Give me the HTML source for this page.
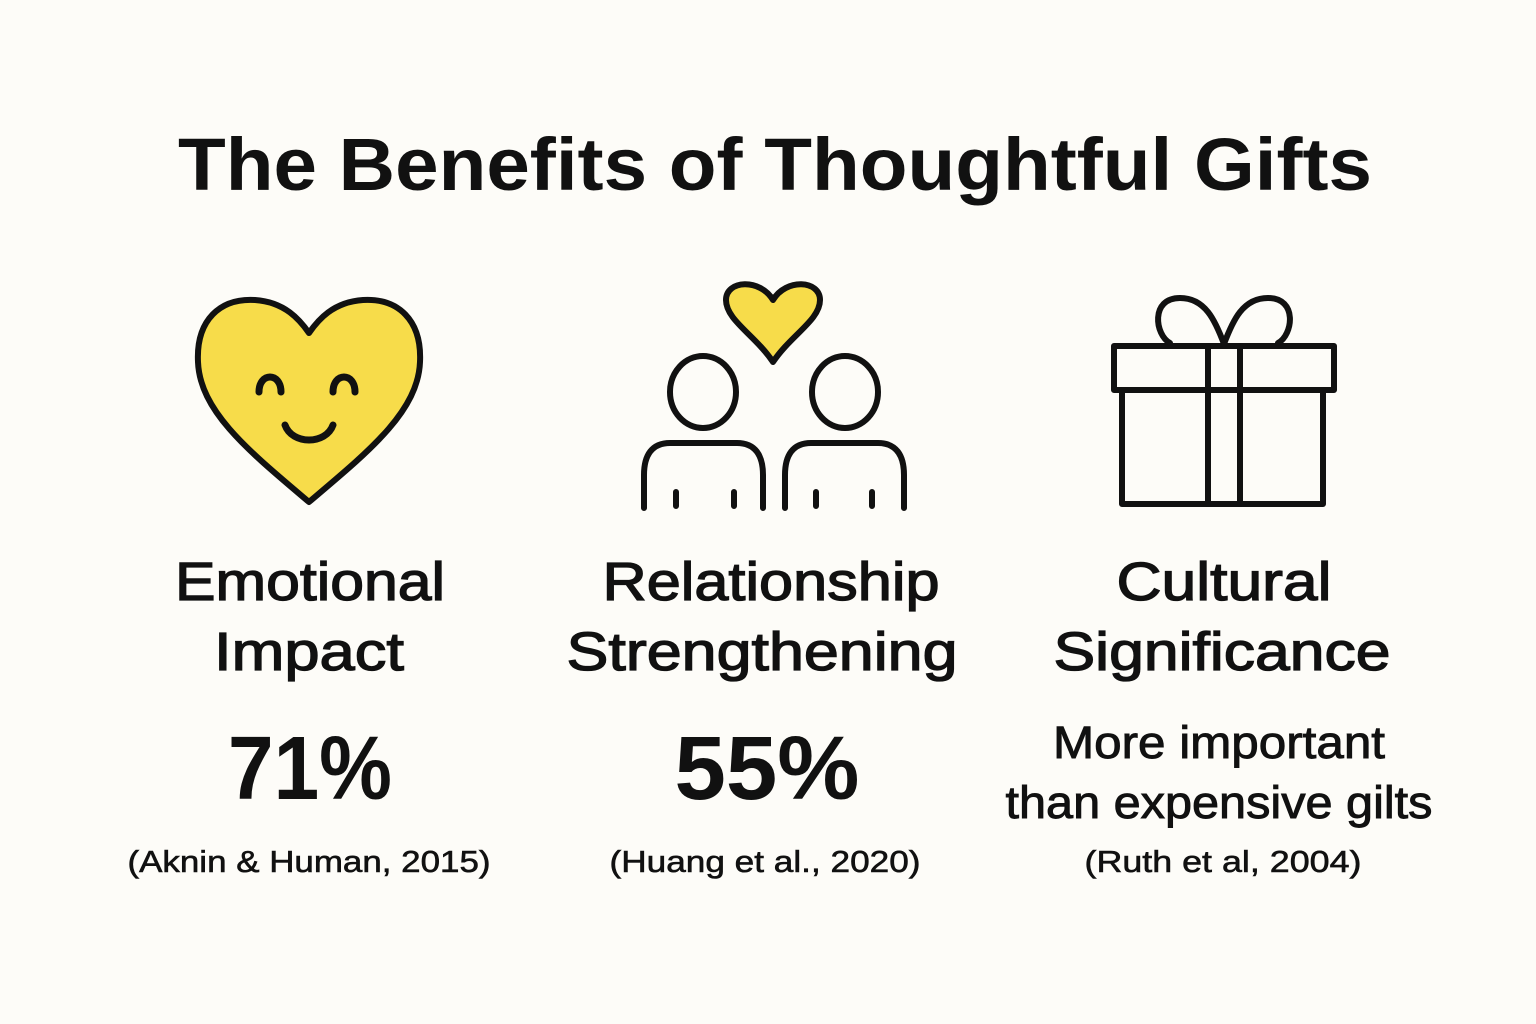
<!DOCTYPE html>
<html><head><meta charset="utf-8"><style>
html,body{margin:0;padding:0;background:#fdfcf8;}
svg{display:block}
text{font-family:"Liberation Sans",sans-serif;fill:#111;text-anchor:middle}
.t{font-weight:bold;font-size:74px}
.l{font-size:54px;stroke:#111;stroke-width:1.3px}
.p{font-weight:bold;font-size:90px}
.c{font-size:31px;stroke:#111;stroke-width:0.6px}
.m{font-size:45px;stroke:#111;stroke-width:0.9px}
</style></head><body>
<svg width="1536" height="1024" viewBox="0 0 1536 1024">
<rect width="1536" height="1024" fill="#fdfcf8"/>
<text class="t" x="775" y="190" textLength="1194" lengthAdjust="spacingAndGlyphs">The Benefits of Thoughtful Gifts</text>
<g fill="none" stroke="#111" stroke-width="6" stroke-linecap="round" stroke-linejoin="round">
<path d="M309,502 C250,452 200,412 198,362 C196,320 220,298 255,300 C285,302 300,320 309,333 C318,320 333,302 363,300 C398,298 422,320 420,362 C418,412 368,452 309,502Z" fill="#f7dc4a"/>
<path d="M259,392 C259,372 281,372 281,392" stroke-width="7"/>
<path d="M333,392 C333,372 355,372 355,392" stroke-width="7"/>
<path d="M285,425 C292,445 326,445 333,425" stroke-width="7"/>
<path d="M773,362 C755,335 726,320 726,300 C726,280 760,278 773,300 C786,278 820,280 820,300 C820,320 791,335 773,362Z" fill="#f7dc4a"/>
<ellipse cx="703" cy="392" rx="33" ry="36"/>
<ellipse cx="845" cy="392" rx="33" ry="36"/>
<path d="M644,508 V475 C644,455 652,443 670,443 H737 C755,443 763,455 763,475 V508"/>
<path d="M785,508 V475 C785,455 793,443 811,443 H878 C896,443 904,455 904,475 V508"/>
<path d="M676,492 V506 M734,492 V506 M816,492 V506 M872,492 V506"/>
<rect x="1114" y="346" width="220" height="44"/>
<rect x="1122" y="390" width="201" height="114"/>
<path d="M1208,346 V504 M1240,346 V504"/>
<path d="M1224,344 C1215,320 1205,298 1180,298 C1150,298 1155,335 1170,343"/>
<path d="M1224,344 C1233,320 1243,298 1268,298 C1298,298 1293,335 1278,343"/>
</g>
<text class="l" x="310" y="600" textLength="270" lengthAdjust="spacingAndGlyphs">Emotional</text>
<text class="l" x="309" y="670" textLength="190" lengthAdjust="spacingAndGlyphs">Impact</text>
<text class="p" x="310" y="799" textLength="164" lengthAdjust="spacingAndGlyphs">71%</text>
<text class="c" x="309" y="872" textLength="363" lengthAdjust="spacingAndGlyphs">(Aknin &amp; Human, 2015)</text>
<text class="l" x="771" y="600" textLength="337" lengthAdjust="spacingAndGlyphs">Relationship</text>
<text class="l" x="762" y="670" textLength="391" lengthAdjust="spacingAndGlyphs">Strengthening</text>
<text class="p" x="767" y="799" textLength="185" lengthAdjust="spacingAndGlyphs">55%</text>
<text class="c" x="765" y="872" textLength="311" lengthAdjust="spacingAndGlyphs">(Huang et al., 2020)</text>
<text class="l" x="1224" y="600" textLength="215" lengthAdjust="spacingAndGlyphs">Cultural</text>
<text class="l" x="1222" y="670" textLength="337" lengthAdjust="spacingAndGlyphs">Significance</text>
<text class="m" x="1219" y="758" textLength="332" lengthAdjust="spacingAndGlyphs">More important</text>
<text class="m" x="1219" y="818" textLength="427" lengthAdjust="spacingAndGlyphs">than expensive gilts</text>
<text class="c" x="1223" y="872" textLength="277" lengthAdjust="spacingAndGlyphs">(Ruth et al, 2004)</text>
</svg>
</body></html>
